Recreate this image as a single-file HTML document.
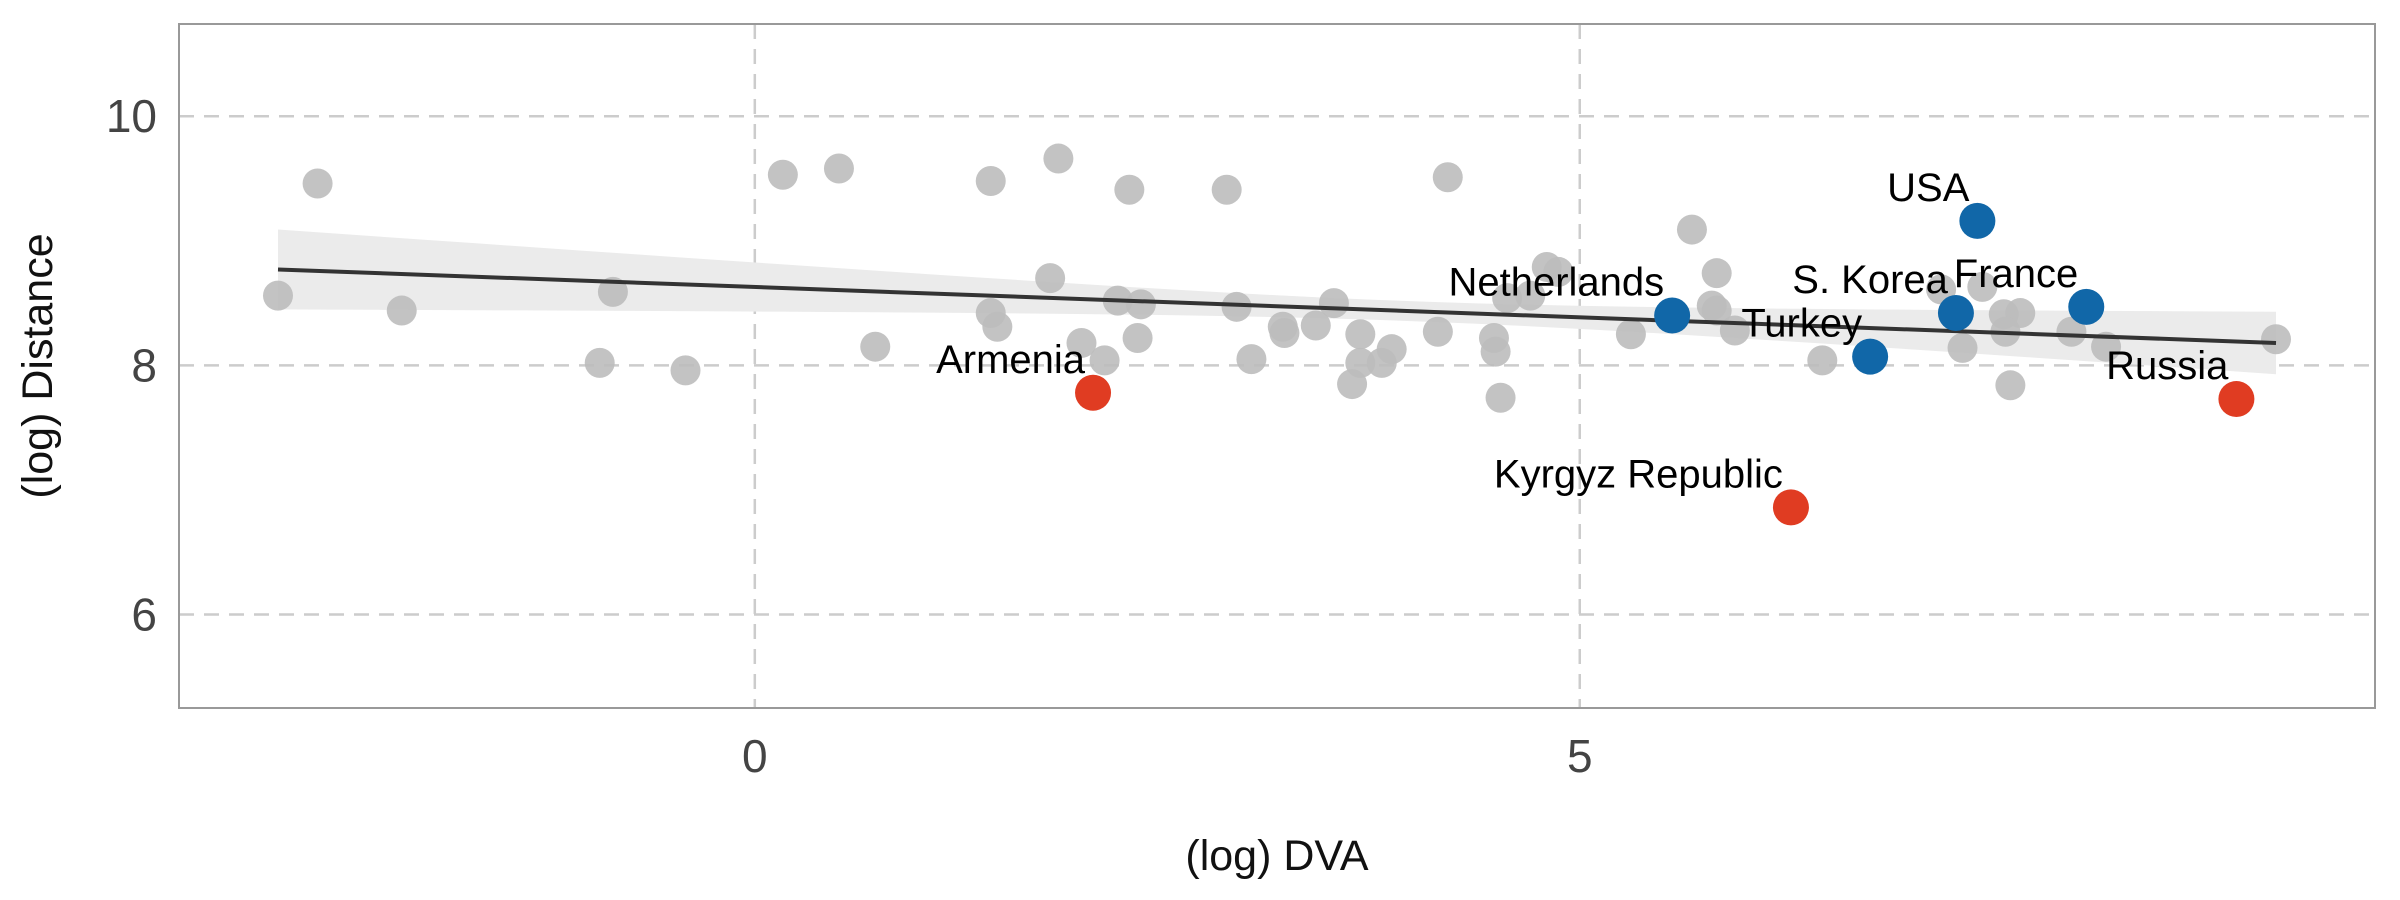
<!DOCTYPE html>
<html><head><meta charset="utf-8"><style>
html,body{margin:0;padding:0;background:#fff;}
svg{display:block;font-family:"Liberation Sans",Arial,sans-serif;}
</style></head><body>
<svg id="chart" width="2400" height="900" viewBox="0 0 2400 900" xmlns="http://www.w3.org/2000/svg">
<g id="grid"></g>
<g id="band"></g>
<g id="pts"></g>
<g id="labels"></g>
<g id="axes"></g>
</svg>
<script>
const grayX = [-2.89,-2.65,-2.14,-0.94,-0.86,-0.42,0.17,0.51,0.73,1.43,1.43,1.47,1.79,1.84,1.98,2.12,2.20,2.27,2.32,2.34,2.86,2.92,3.01,3.20,3.21,3.40,3.51,3.62,3.67,3.67,3.80,3.86,4.14,4.20,4.48,4.49,4.52,4.56,4.70,4.80,4.87,5.31,5.68,5.80,5.83,5.83,5.94,6.47,7.19,7.44,7.32,7.57,7.67,7.58,7.61,7.98,8.19,9.22];
const grayY = [8.56,9.46,8.44,8.02,8.59,7.96,9.53,9.58,8.15,9.48,8.42,8.31,8.70,9.66,8.18,8.04,8.52,9.41,8.22,8.49,9.41,8.47,8.05,8.31,8.26,8.32,8.50,7.85,8.25,8.02,8.02,8.13,8.27,9.51,8.22,8.11,7.74,8.54,8.56,8.79,8.75,8.25,9.09,8.48,8.74,8.44,8.28,8.04,8.61,8.63,8.14,8.41,8.42,8.27,7.84,8.27,8.15,8.21];
const blueNames = ["USA","Netherlands","S. Korea","France","Turkey"];
const blueX = [7.41,5.56,7.28,8.07,6.76];
const blueY = [9.16,8.40,8.42,8.47,8.07];
const redNames = ["Armenia","Kyrgyz Republic","Russia"];
const redX = [2.05,6.28,8.98];
const redY = [7.78,6.86,7.73];
const fitRange = [-2.89, 9.22];
const fitIntercept = 8.629;
const fitSlope = -0.0487;
const xTicks = [0,5];
const yTicks = [6,8,10];

const L=179,R=2375,T=24,B=708;
const xMin=-3.49,xMax=9.82,yMin=5.25,yMax=10.74;
const sx=v=>L+(v-xMin)/(xMax-xMin)*(R-L);
const sy=v=>B-(v-yMin)/(yMax-yMin)*(B-T);
const NS="http://www.w3.org/2000/svg";
function mk(tag,attrs,parent){const e=document.createElementNS(NS,tag);for(const k in attrs)e.setAttribute(k,attrs[k]);parent.appendChild(e);return e;}
const gridG=document.getElementById('grid'),bandG=document.getElementById('band'),ptsG=document.getElementById('pts'),labelsG=document.getElementById('labels'),axesG=document.getElementById('axes');

xTicks.forEach(t=>{
  const l=mk('line',{x1:sx(t),x2:sx(t),y1:T,y2:B,stroke:'#cccccc','stroke-width':2.5,'stroke-dasharray':'15 10'},gridG);
  
  
  const tx=mk('text',{x:sx(t),y:772,'text-anchor':'middle','font-size':46,fill:'#444'},axesG);
  tx.textContent=t;
  
  
});
yTicks.forEach(t=>{
  const l=mk('line',{x1:L,x2:R,y1:sy(t),y2:sy(t),stroke:'#cccccc','stroke-width':2.5,'stroke-dasharray':'15 10'},gridG);
  
  
  const tx=mk('text',{x:157,y:sy(t)+16,'text-anchor':'end','font-size':46,fill:'#444'},axesG);
  tx.textContent=t;
  
  
});

const xm=3.97,ca=0.0064,cb=0.00205;
const bandTop=[],bandBot=[];
for(let i=0;i<=40;i++){const x=fitRange[0]+(fitRange[1]-fitRange[0])*i/40;const y=fitIntercept+fitSlope*x;const h=Math.sqrt(ca+cb*(x-xm)*(x-xm));bandTop.push(sx(x)+','+sy(y+h));bandBot.unshift(sx(x)+','+sy(y-h));}
const poly=mk('polygon',{points:bandTop.concat(bandBot).join(' '),fill:'#ebebeb'},bandG);



grayX.forEach((x,i)=>{
  const c=mk('circle',{cx:sx(x),cy:sy(grayY[i]),r:15,fill:'#bdbdbd','fill-opacity':0.9},ptsG);
  
  
});
const fl=mk('line',{x1:sx(fitRange[0]),y1:sy(fitIntercept+fitSlope*fitRange[0]),x2:sx(fitRange[1]),y2:sy(fitIntercept+fitSlope*fitRange[1]),stroke:'#333','stroke-width':4},ptsG);



function hl(names,xs,ys,color,nm){
  xs.forEach((x,i)=>{
    const c=mk('circle',{cx:sx(x),cy:sy(ys[i]),r:18,fill:color},ptsG);
    
    
    const t=mk('text',{x:sx(x)-8,y:sy(ys[i])-20,'text-anchor':'end','font-size':40,fill:'#000'},labelsG);
    t.textContent=names[i];
    
    
  });
}
hl(blueNames,blueX,blueY,'#1167a8','point-blue');
hl(redNames,redX,redY,'#e03c22','point-red');

const fr=mk('rect',{x:L,y:T,width:R-L,height:B-T,fill:'none',stroke:'#999','stroke-width':2},axesG);


const xt=mk('text',{x:(L+R)/2,y:870,'text-anchor':'middle','font-size':43,fill:'#111'},axesG);
xt.textContent='(log) DVA';


const yt=mk('text',{x:0,y:0,'text-anchor':'middle','font-size':43,fill:'#111',transform:'translate(52,366) rotate(-90)'},axesG);
yt.textContent='(log) Distance';


</script>
</body></html>
